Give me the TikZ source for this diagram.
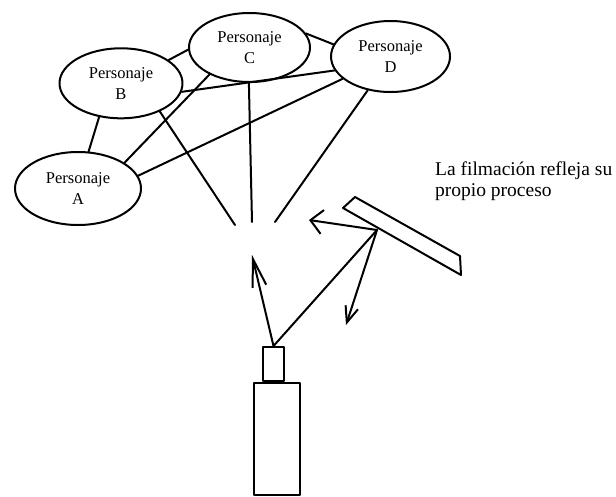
\documentclass[tikz,border=0pt]{standalone}
\usepackage{fontspec}
\setmainfont{Liberation Serif}
\usetikzlibrary{shapes.geometric,arrows.meta}
\begin{document}
\begin{tikzpicture}[x=1pt,y=-1pt,
  ln/.style={line width=2pt, line cap=round, line join=round},
  pers/.style={ellipse, draw, ln, inner sep=0pt, align=center,
    font=\fontsize{16.5}{21}\selectfont},
  box/.style={rectangle, draw, ln, inner sep=0pt},
  uparrow/.style={ln, -{Straight Barb[length=28pt,width=14pt]}},
  leftarrow/.style={ln, -{Straight Barb[length=12pt,width=24pt]}},
  downarrow/.style={ln, -{Straight Barb[length=16pt,width=13pt]}},
  caption/.style={anchor=base west, align=left, inner sep=0pt,
    font=\fontsize{19.5}{21.5}\selectfont}]
\useasboundingbox (0,0) rectangle (616,496);
% characters
\node[pers, minimum width=126pt, minimum height=73pt] (A) at (78,188.5) {\raisebox{-3pt}{Personaje}\\\raisebox{-3pt}{A}};
\node[pers, minimum width=123pt, minimum height=70pt] (B) at (121,83.3) {\raisebox{-3pt}{Personaje}\\\raisebox{-3pt}{B}};
\node[pers, minimum width=121pt, minimum height=69pt] (C) at (249.5,47.5) {\raisebox{-3pt}{Personaje}\\\raisebox{-3pt}{C}};
\node[pers, minimum width=119pt, minimum height=71pt] (D) at (390.5,56.5) {\raisebox{-3pt}{Personaje}\\\raisebox{-3pt}{D}};
% links between characters
\draw[ln] (A.74) -- (B.237.8);
\draw[ln] (A.29.5) -- (C.214.8);
\draw[ln] (A.12.9) -- (D.205.8);
\draw[ln] (B.26.9) -- (C.182.4);
\draw[ln] (B.-8.9) -- (D.194.4);
\draw[ln] (C.14.6) -- (D.168.9);
% rays towards the centre
\coordinate (rb) at (235,225);
\coordinate (rc) at (252,222);
\coordinate (rd) at (275,222);
\draw[ln] (B.-36.3) -- (rb);
\draw[ln] (C.269.2) -- (rc);
\draw[ln] (D.236.5) -- (rd);
% camera
\node[box, minimum width=21pt, minimum height=34pt] (lens) at (273.5,364) {};
\node[box, minimum width=46pt, minimum height=112pt] (body) at (277,439) {};
% mirror
\draw[ln] (343,208) -- (355,197) -- (460,256) -- (461,275) -- cycle;
\coordinate (M) at (377,230);
\coordinate (up) at (252,255);
\coordinate (lt) at (309,220);
\coordinate (dn) at (346,325);
\draw[uparrow] (lens.north) -- (up);
\draw[ln] (lens.north) -- (M);
\draw[leftarrow] (M) -- (lt);
\draw[downarrow] (M) -- (dn);
% caption
\node[caption] (cap) at (435,196.5) {La filmación refleja su\\propio proceso};
\end{tikzpicture}
\end{document}
